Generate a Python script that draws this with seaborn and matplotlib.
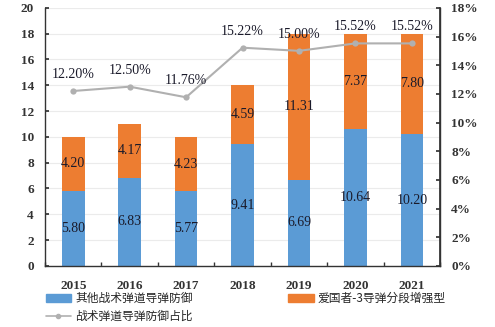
import numpy as np
import pandas as pd
import matplotlib
matplotlib.use("Agg")
import matplotlib.pyplot as plt
import seaborn as sns
from matplotlib.lines import Line2D
from matplotlib.patches import Patch

years = ["2015", "2016", "2017", "2018", "2019", "2020", "2021"]
other_tbmd = [5.80, 6.83, 5.77, 9.41, 6.69, 10.64, 10.20]
pac3_mse = [4.20, 4.17, 4.23, 4.59, 11.31, 7.37, 7.80]
share_pct = [12.20, 12.50, 11.76, 15.22, 15.00, 15.52, 15.52]
legend_labels = ["其他战术弹道导弹防御", "爱国者-3导弹分段增强型", "战术弹道导弹防御占比"]

BLUE = "#5b9bd5"
ORANGE = "#ed7d31"
GRAY = "#b0b0b0"
TXT = "#1a1a2a"

sns.set_theme(style="white")
plt.rcParams["font.family"] = ["Liberation Serif", "Noto Sans CJK SC", "DejaVu Sans"]

df = pd.DataFrame({"year": years, "other": other_tbmd, "pac3": pac3_mse,
                   "share": share_pct})
df["total"] = df["other"] + df["pac3"]
df["pos"] = np.arange(len(df))

fig = plt.figure(figsize=(4.95, 3.27), dpi=100)
ax = fig.add_axes([0.091, 0.187, 0.798, 0.789])

sns.barplot(data=df, x="year", y="total", color=ORANGE, width=0.4,
            saturation=1, ax=ax, order=years, linewidth=0)
sns.barplot(data=df, x="year", y="other", color=BLUE, width=0.4,
            saturation=1, ax=ax, order=years, linewidth=0)

ax.set_ylim(0, 20)
ax.set_yticks(np.arange(0, 21, 2))
ax.set_xlim(-0.5, len(years) - 0.5)
ax.set_xlabel("")
ax.set_ylabel("")
ax.yaxis.grid(True, color="#ebebeb", linewidth=0.8)
ax.set_axisbelow(True)
ax.spines["top"].set_visible(False)
for s in ["left", "bottom", "right"]:
    ax.spines[s].set_color("#333333")
    ax.spines[s].set_linewidth(1.0)
ax.tick_params(axis="y", direction="in", length=3, color="#333333",
               labelsize=9.5, labelcolor="#333333", pad=8, left=True)
ax.tick_params(axis="x", length=0, labelsize=9.5, labelcolor="#333333", pad=10)
for lab in ax.get_xticklabels():
    lab.set_fontweight("bold")
for lab in ax.get_yticklabels():
    lab.set_fontweight("bold")
ax.set_xticks(np.arange(-0.5, len(years) - 0.4, 1.0), minor=True)
ax.tick_params(axis="x", which="minor", direction="in", length=3,
               color="#333333", bottom=True)

for i in range(len(df)):
    o = df["other"][i]
    p = df["pac3"][i]
    ax.text(i, o / 2, f"{o:.2f}", ha="center", va="center", fontsize=10,
            color=TXT)
    ax.text(i, o + p / 2, f"{p:.2f}", ha="center", va="center", fontsize=10,
            color=TXT)

ax2 = ax.twinx()
sns.lineplot(data=df, x="pos", y="share", color=GRAY, linewidth=1.5,
             marker="o", markersize=4.5, markeredgewidth=0, ax=ax2)
ax2.set_ylim(0, 18)
ax2.set_yticks(np.arange(0, 19, 2))
ax2.set_yticklabels([f"{v}%" for v in range(0, 19, 2)])
ax2.set_xlim(-0.5, len(years) - 0.5)
ax2.set_xlabel("")
ax2.set_ylabel("")
for s in ["top", "left", "bottom"]:
    ax2.spines[s].set_visible(False)
ax2.spines["right"].set_color("#333333")
ax2.tick_params(axis="y", direction="in", length=3, color="#333333",
                labelsize=9.5, labelcolor="#333333", pad=8, right=True)
for lab in ax2.get_yticklabels():
    lab.set_fontweight("bold")
for i in range(len(df)):
    ax2.text(i, df["share"][i] + 0.7, f"{df['share'][i]:.2f}%", ha="center",
             va="bottom", fontsize=10, color=TXT)

handles = [Patch(color=BLUE), Patch(color=ORANGE),
           Line2D([0], [0], color=GRAY, lw=1.2, marker="o", markersize=3)]
cjk = {"family": ["Noto Sans CJK SC", "DejaVu Sans"], "size": 8.5}
fig.legend(handles[:1], legend_labels[:1], loc="upper left",
           bbox_to_anchor=(0.08, 0.125), frameon=False, prop=cjk,
           handlelength=2.2, handleheight=0.6, handletextpad=0.3,
           borderpad=0)
fig.legend(handles[1:2], legend_labels[1:2], loc="upper left",
           bbox_to_anchor=(0.57, 0.125), frameon=False, prop=cjk,
           handlelength=2.2, handleheight=0.6, handletextpad=0.3,
           borderpad=0)
fig.legend(handles[2:], legend_labels[2:], loc="upper left",
           bbox_to_anchor=(0.08, 0.07), frameon=False, prop=cjk,
           handlelength=2.2, handletextpad=0.3, borderpad=0)

fig.savefig("out.png", dpi=100)
